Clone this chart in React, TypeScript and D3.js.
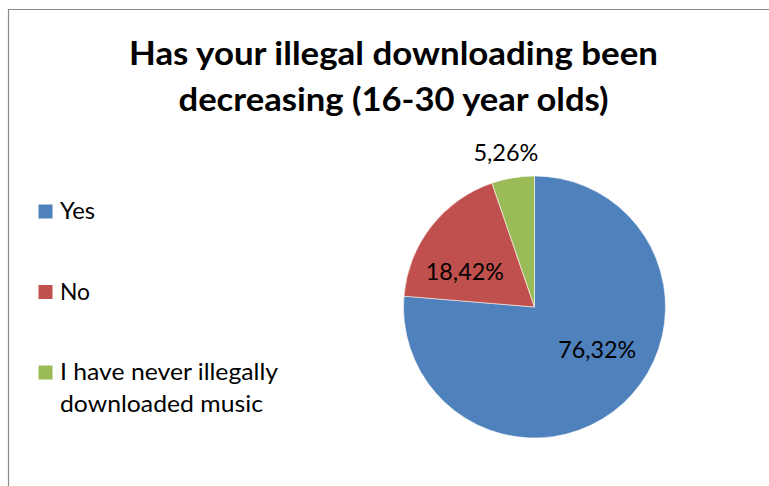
import React from "react";
import * as d3 from "d3";

const categories = ["Yes", "No", "I have never illegally downloaded music"];
const legendLines = [["Yes"], ["No"], ["I have never illegally", "downloaded music"]];
const values = [76.32, 18.42, 5.26];
const valueLabels = ["76,32%", "18,42%", "5,26%"];
const colors = ["#4F81BD", "#C0504D", "#9BBB59"];
const titleLines = ["Has your illegal downloading been", "decreasing (16-30 year olds)"];

const W = 769;
const H = 486;
const cx = 534.5;
const cy = 307;
const R = 131;
// label placement: [angle in degrees clockwise from top, radius]
const labelPlacement = [
  [124.5, 76],
  [296.7, 78],
  [349.5, 157],
];
const labelWidths = [78, 78, 65];
const legendWidths = [[35], [30], [218, 203]];
const FONT = "Lato, 'Open Sans', sans-serif";

export default function App() {
  const pie = d3.pie<number>().sort(null).value((d) => d);
  const arcs = pie(values);
  const arc = d3.arc<d3.PieArcDatum<number>>().innerRadius(0).outerRadius(R);

  const legendY = d3.scalePoint<string>().domain(categories).range([219, 380]);

  return (
    <svg
      width={W}
      height={H}
      style={{ position: "absolute", left: 0, top: 0, background: "#fff" }}
      fontFamily={FONT}
    >
      <rect x={0} y={0} width={W} height={H} fill="#fff" />
      <path d={`M8.5,${H + 5} V9.5 H${W + 5}`} fill="none" stroke="#898989" strokeWidth={1.2} />

      {titleLines.map((t, i) => (
        <text
          key={i}
          x={393.5}
          y={65 + i * 46}
          textAnchor="middle"
          fontSize={33}
          fontWeight="bold"
          fill="#000"
          textLength={i === 0 ? 529 : 430}
          lengthAdjust="spacingAndGlyphs"
        >
          {t}
        </text>
      ))}

      <g transform={`translate(${cx},${cy})`}>
        {arcs.map((a, i) => (
          <path key={i} d={arc(a) || ""} fill={colors[i]} stroke="#fff" strokeWidth={0.8} strokeOpacity={0.7} />
        ))}
        {arcs.map((a, i) => {
          const [deg, r] = labelPlacement[i];
          const ang = (deg * Math.PI) / 180;
          const x = Math.sin(ang) * r;
          const y = -Math.cos(ang) * r;
          return (
            <text
              key={i}
              x={x}
              y={y + 8.3}
              textAnchor="middle"
              fontSize={23.5}
              fill="#000"
              textLength={labelWidths[i]}
              lengthAdjust="spacingAndGlyphs"
            >
              {valueLabels[i]}
            </text>
          );
        })}
      </g>

      {categories.map((c, i) => {
        const by = legendY(c) as number;
        return (
          <g key={c}>
            <rect x={38.5} y={by - 14.5} width={14} height={14} fill={colors[i]} />
            {legendLines[i].map((ln, j) => (
              <text
                key={j}
                x={60}
                y={by + j * 32}
                fontSize={23.5}
                fill="#000"
                textLength={legendWidths[i][j]}
                lengthAdjust="spacingAndGlyphs"
              >
                {ln}
              </text>
            ))}
          </g>
        );
      })}
    </svg>
  );
}
